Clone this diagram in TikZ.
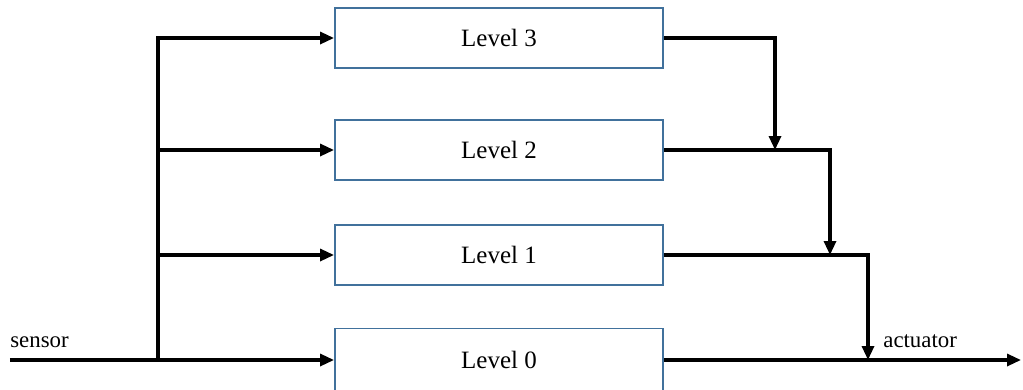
\documentclass[tikz,border=0pt]{standalone}
\usepackage{fontspec}
\setmainfont{Liberation Serif}
\usetikzlibrary{arrows.meta}
\definecolor{boxblue}{RGB}{65,113,156}

\begin{document}
\begin{tikzpicture}[
  level/.style={draw=boxblue,line width=1.1pt,fill=white,minimum width=6.56cm,minimum height=1.2cm,font=\fontsize{14.2}{17}\selectfont},
  wire/.style={line width=1.8pt,-{Triangle[length=0.28cm,width=0.24cm]}},
  lbl/.style={anchor=base west,inner sep=0pt,font=\fontsize{13}{15}\selectfont}]
\useasboundingbox (0,0) rectangle (20.46,7.78);
\clip (0,0) rectangle (20.46,7.78);
% the four control levels
\node[level](lv3) at (9.98,7.02){Level 3};
\node[level](lv2) at (9.98,4.78){Level 2};
\node[level](lv1) at (9.98,2.68){Level 1};
\node[level,minimum height=1.26cm](lv0) at (9.98,0.58){Level 0};
% input side
\coordinate (in) at (0.2,0.58);
\coordinate (bus) at (3.16,0.58);
\draw[wire](in)--(lv0.west);
\draw[wire](bus)|-(lv3.west);
\draw[wire](bus|-lv2.west)--(lv2.west);
\draw[wire](bus|-lv1.west)--(lv1.west);
\node[lbl](sensor) at (0.2,0.84){sensor};
% output side
\coordinate (j2) at (15.5,4.78);
\coordinate (j1) at (16.6,2.68);
\coordinate (j0) at (17.36,0.58);
\coordinate (out) at (20.42,0.58);
\draw[wire](lv3.east)-|(j2);
\draw[wire](lv2.east)-|(j1);
\draw[wire](lv1.east)-|(j0);
\draw[wire](lv0.east)--(out);
\node[lbl](actuator) at (17.66,0.84){actuator};
\end{tikzpicture}
\end{document}
